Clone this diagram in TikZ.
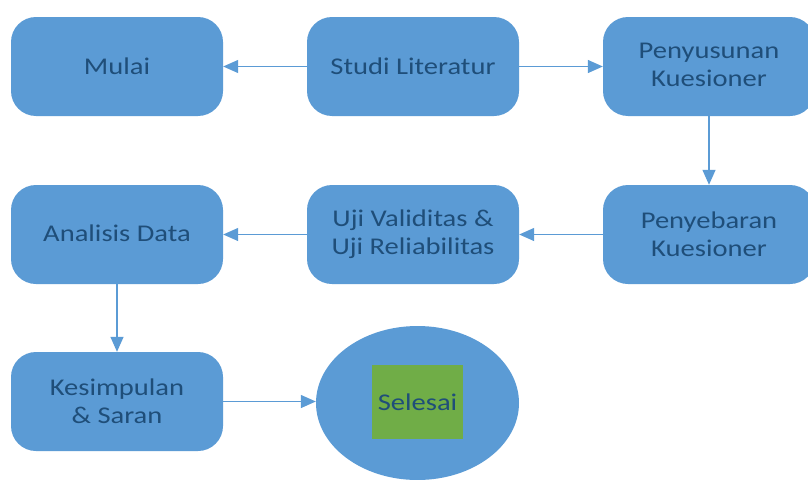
\documentclass[tikz,border=0pt]{standalone}
\usepackage{fontspec}
\setmainfont[FakeStretch=1.19]{Carlito}
\usetikzlibrary{shapes.geometric,arrows.meta}
\definecolor{boxblue}{HTML}{5B9BD5}
\definecolor{txtblue}{HTML}{1F4E79}
\definecolor{boxgreen}{HTML}{70AD47}
\tikzset{
  stepbox/.style={rectangle, rounded corners=25pt, fill=boxblue, draw=none,
    minimum width=212pt, minimum height=99pt, align=center,
    text=txtblue, font=\fontsize{24pt}{28pt}\selectfont},
  flow/.style={draw=boxblue, line width=1.3pt, -{Triangle[length=15pt,width=13pt]}}
}
\begin{document}
\begin{tikzpicture}[x=1pt,y=-1pt]
\clip (0,0) rectangle (808,479);
\fill[white] (0,0) rectangle (808,479);
\node[stepbox] (mulai) at (117,66.5) {Mulai};
\node[stepbox] (studi) at (413,66.5) {\raisebox{-2pt}{Studi Literatur}};
\node[stepbox] (susun) at (709,66.5) {\raisebox{4pt}{\begin{tabular}{@{}c@{}}Penyusunan\\Kuesioner\end{tabular}}};
\node[stepbox] (analisis) at (117,234.5) {\raisebox{3pt}{Analisis Data}};
\node[stepbox] (uji) at (413,234.5) {Uji Validitas \&\\Uji Reliabilitas};
\node[stepbox] (sebar) at (709,234.5) {Penyebaran\\Kuesioner};
\node[stepbox] (simpul) at (117,401.5) {Kesimpulan\\\& Saran};
\node[ellipse, fill=boxblue, minimum width=203pt, minimum height=154pt, inner sep=0pt] (akhir) at (417.5,403) {};
\node[rectangle, fill=boxgreen, minimum width=91pt, minimum height=74pt, inner sep=0pt,
  text=txtblue, font=\fontsize{24pt}{28pt}\selectfont] (selesai) at (417.5,402) {Selesai};
\draw[flow] (studi) -- (mulai);
\draw[flow] (studi) -- (susun);
\draw[flow] (susun) -- (sebar);
\draw[flow] (sebar) -- (uji);
\draw[flow] (uji) -- (analisis);
\draw[flow] (analisis) -- (simpul);
\draw[flow] (simpul.east) -- (simpul.east -| akhir.west);
\end{tikzpicture}
\end{document}
